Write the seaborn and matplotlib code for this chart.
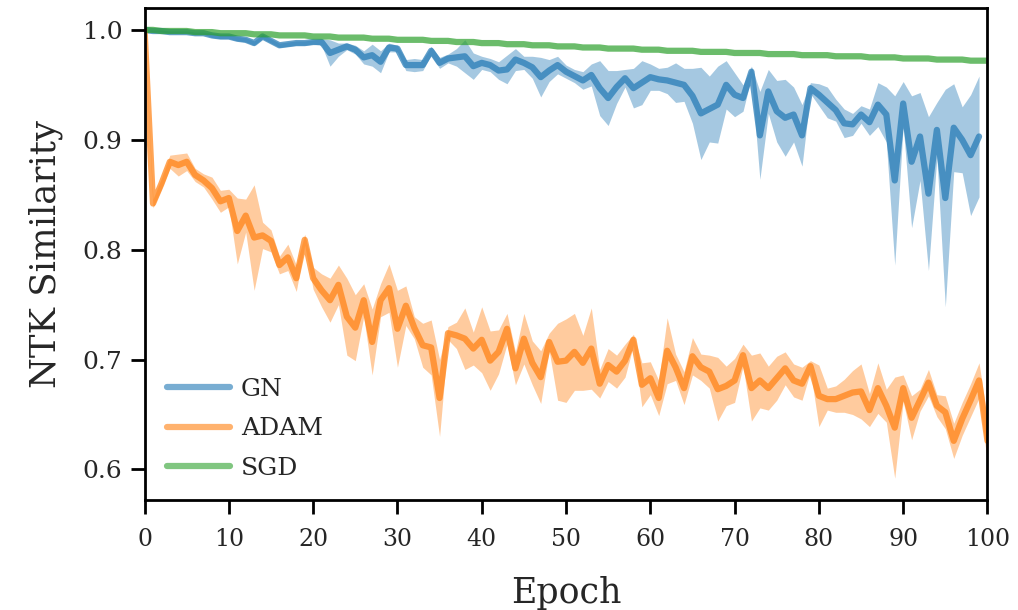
import numpy as np
import pandas as pd
import seaborn as sns
import matplotlib
matplotlib.use("Agg")
import matplotlib.pyplot as plt

# ---------------- data ----------------
gn_mean = [1.000, 0.999, 0.999, 0.998, 0.998, 0.998, 0.997, 0.997, 0.995, 0.994,
           0.994, 0.992, 0.991, 0.988, 0.994, 0.990, 0.986, 0.987, 0.988, 0.988,
           0.989, 0.989, 0.979, 0.982, 0.985, 0.982, 0.975, 0.977, 0.971, 0.984,
           0.983, 0.968, 0.968, 0.968, 0.981, 0.970, 0.974, 0.975, 0.976, 0.967,
           0.970, 0.968, 0.963, 0.964, 0.973, 0.970, 0.966, 0.957, 0.963, 0.968,
           0.962, 0.958, 0.954, 0.959, 0.947, 0.938, 0.948, 0.956, 0.947, 0.952,
           0.957, 0.955, 0.954, 0.952, 0.950, 0.940, 0.924, 0.928, 0.932, 0.950,
           0.941, 0.938, 0.962, 0.904, 0.944, 0.926, 0.920, 0.923, 0.904, 0.947,
           0.941, 0.934, 0.927, 0.915, 0.914, 0.923, 0.916, 0.932, 0.923, 0.863,
           0.933, 0.880, 0.903, 0.851, 0.909, 0.847, 0.911, 0.900, 0.886, 0.903]
gn_std = [0.000, 0.001, 0.001, 0.001, 0.001, 0.001, 0.001, 0.001, 0.002, 0.002,
          0.002, 0.002, 0.002, 0.002, 0.002, 0.002, 0.002, 0.002, 0.002, 0.002,
          0.002, 0.003, 0.012, 0.006, 0.003, 0.004, 0.006, 0.010, 0.010, 0.004,
          0.003, 0.005, 0.006, 0.005, 0.004, 0.005, 0.004, 0.008, 0.015, 0.012,
          0.006, 0.006, 0.008, 0.013, 0.010, 0.006, 0.010, 0.018, 0.010, 0.008,
          0.006, 0.006, 0.008, 0.010, 0.025, 0.025, 0.015, 0.008, 0.018, 0.020,
          0.012, 0.010, 0.012, 0.018, 0.015, 0.025, 0.042, 0.030, 0.035, 0.022,
          0.020, 0.012, 0.005, 0.040, 0.020, 0.028, 0.035, 0.025, 0.028, 0.005,
          0.010, 0.014, 0.010, 0.013, 0.010, 0.008, 0.012, 0.020, 0.025, 0.077,
          0.020, 0.060, 0.040, 0.070, 0.025, 0.099, 0.040, 0.030, 0.055, 0.055]

adam_mean = [1.000, 0.842, 0.860, 0.880, 0.877, 0.880, 0.868, 0.863, 0.856, 0.844,
             0.847, 0.817, 0.831, 0.811, 0.813, 0.808, 0.786, 0.793, 0.774, 0.809,
             0.774, 0.763, 0.754, 0.768, 0.739, 0.729, 0.754, 0.716, 0.754, 0.765,
             0.728, 0.749, 0.729, 0.713, 0.711, 0.665, 0.724, 0.722, 0.719, 0.710,
             0.718, 0.699, 0.707, 0.728, 0.692, 0.719, 0.697, 0.684, 0.716, 0.698,
             0.699, 0.707, 0.697, 0.710, 0.678, 0.695, 0.689, 0.699, 0.718, 0.677,
             0.683, 0.665, 0.708, 0.693, 0.674, 0.703, 0.693, 0.689, 0.673, 0.676,
             0.681, 0.704, 0.674, 0.681, 0.674, 0.683, 0.692, 0.681, 0.678, 0.694,
             0.667, 0.664, 0.664, 0.667, 0.670, 0.671, 0.654, 0.674, 0.658, 0.638,
             0.674, 0.647, 0.663, 0.679, 0.658, 0.652, 0.626, 0.646, 0.663, 0.681,
             0.626]
adam_std = [0.000, 0.004, 0.005, 0.006, 0.010, 0.008, 0.006, 0.006, 0.010, 0.010,
            0.008, 0.030, 0.015, 0.048, 0.012, 0.010, 0.008, 0.012, 0.012, 0.005,
            0.010, 0.015, 0.020, 0.018, 0.035, 0.030, 0.015, 0.030, 0.015, 0.022,
            0.035, 0.018, 0.010, 0.020, 0.025, 0.035, 0.006, 0.012, 0.028, 0.015,
            0.030, 0.027, 0.020, 0.014, 0.015, 0.023, 0.020, 0.024, 0.008, 0.035,
            0.038, 0.035, 0.025, 0.037, 0.013, 0.015, 0.015, 0.015, 0.005, 0.020,
            0.015, 0.016, 0.030, 0.012, 0.015, 0.017, 0.012, 0.015, 0.029, 0.018,
            0.020, 0.010, 0.030, 0.025, 0.020, 0.020, 0.015, 0.015, 0.015, 0.005,
            0.028, 0.010, 0.012, 0.015, 0.020, 0.025, 0.015, 0.023, 0.015, 0.046,
            0.012, 0.020, 0.010, 0.012, 0.010, 0.015, 0.016, 0.015, 0.015, 0.016,
            0.020]

sgd_mean = [1.000, 1.000, 0.999, 0.999, 0.999, 0.999, 0.998, 0.998, 0.998, 0.997,
            0.997, 0.997, 0.997, 0.996, 0.996, 0.996, 0.995, 0.995, 0.995, 0.995,
            0.994, 0.994, 0.994, 0.993, 0.993, 0.993, 0.993, 0.992, 0.992, 0.992,
            0.991, 0.991, 0.991, 0.991, 0.990, 0.990, 0.990, 0.989, 0.989, 0.989,
            0.988, 0.988, 0.988, 0.987, 0.987, 0.987, 0.986, 0.986, 0.986, 0.985,
            0.985, 0.985, 0.984, 0.984, 0.984, 0.983, 0.983, 0.983, 0.983, 0.982,
            0.982, 0.982, 0.981, 0.981, 0.981, 0.981, 0.980, 0.980, 0.980, 0.980,
            0.979, 0.979, 0.979, 0.979, 0.978, 0.978, 0.978, 0.978, 0.977, 0.977,
            0.977, 0.977, 0.976, 0.976, 0.976, 0.976, 0.975, 0.975, 0.975, 0.975,
            0.974, 0.974, 0.974, 0.974, 0.973, 0.973, 0.973, 0.973, 0.972, 0.972,
            0.972]

series_names = ["GN", "ADAM", "SGD"]
x_ticks = [0, 10, 20, 30, 40, 50, 60, 70, 80, 90, 100]
y_ticks = [0.6, 0.7, 0.8, 0.9, 1.0]

# ---------------- build table ----------------
rows = []
for name, m, s in [("GN", gn_mean, gn_std), ("ADAM", adam_mean, adam_std),
                   ("SGD", sgd_mean, [0.0] * len(sgd_mean))]:
    for e, (mv, sv) in enumerate(zip(m, s)):
        rows.append({"Epoch": e, "value": mv, "std": sv, "opt": name})
df = pd.DataFrame(rows)

# ---------------- plot ----------------
sns.set_theme(style="ticks")
plt.rcParams["font.family"] = ["DejaVu Serif"]

fig = plt.figure(figsize=(10.18, 6.10), dpi=100)
ax = fig.add_axes([0.142, 0.180, 0.828, 0.807])

palette = dict(zip(series_names, sns.color_palette("tab10", 3)))

sns.lineplot(data=df, x="Epoch", y="value", hue="opt", hue_order=series_names,
             palette=palette, linewidth=4.5, alpha=0.7, ax=ax, errorbar=None)

for name in ["GN", "ADAM"]:
    d = df[df.opt == name]
    ax.fill_between(d["Epoch"], d["value"] - d["std"], d["value"] + d["std"],
                    color=palette[name], alpha=0.4, linewidth=0)

ax.set_xlim(0, 100)
ax.set_ylim(0.572, 1.02)
ax.set_xticks(x_ticks)
ax.set_yticks(y_ticks)
ax.set_yticklabels([f"{v:.1f}" for v in y_ticks])
ax.set_xlabel("Epoch", fontsize=25, labelpad=18)
ax.set_ylabel("NTK Similarity", fontsize=25.5, labelpad=14)
ax.tick_params(axis="both", width=2, length=10, color="black")
ax.tick_params(axis="x", labelsize=17, pad=10)
ax.tick_params(axis="y", labelsize=18, pad=6)
for sp in ax.spines.values():
    sp.set_linewidth(2)
    sp.set_color("black")

leg = ax.legend(loc="lower left", bbox_to_anchor=(0.0, -0.005), frameon=False,
                fontsize=18, handlelength=2.5, handletextpad=0.45,
                labelspacing=0.67)
for h in leg.get_lines():
    h.set_linewidth(4.5)
    h.set_alpha(0.6)

fig.savefig("out.png", dpi=100)
